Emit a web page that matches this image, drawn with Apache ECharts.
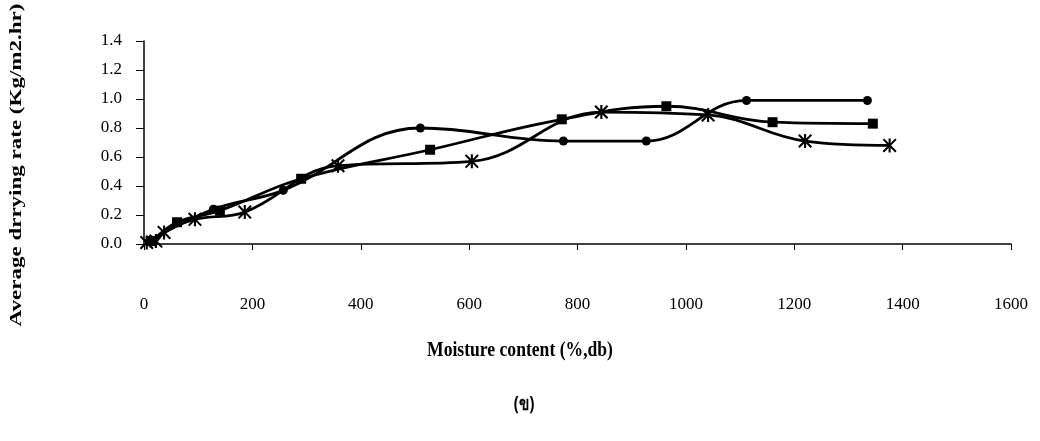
<!DOCTYPE html>
<html>
<head>
<meta charset="utf-8">
<script src="https://cdn.jsdelivr.net/npm/echarts@6/dist/echarts.min.js"></script>
<style>
  html, body { margin: 0; padding: 0; background: #fff; }
  #chart { width: 1040px; height: 441px; }
</style>
</head>
<body>
<div id="chart"></div>
<script>
// Moisture content (%, db) and average drying rate (kg/m2.hr) for three runs
const moistureCircle = [10, 128, 257, 510, 774, 927, 1112, 1335];
const rateCircle     = [0.02, 0.24, 0.37, 0.80, 0.71, 0.71, 0.99, 0.99];

const moistureSquare = [15, 61, 140, 290, 528, 771, 964, 1160, 1345];
const rateSquare     = [0.02, 0.15, 0.23, 0.45, 0.65, 0.86, 0.95, 0.84, 0.83];

const moistureStar = [5, 22, 37, 94, 186, 358, 605, 844, 1041, 1220, 1376];
const rateStar     = [0.01, 0.02, 0.08, 0.17, 0.22, 0.54, 0.57, 0.91, 0.89, 0.71, 0.68];

const xTicks = [0, 200, 400, 600, 800, 1000, 1200, 1400, 1600];
const yTicks = [0.0, 0.2, 0.4, 0.6, 0.8, 1.0, 1.2, 1.4];

const xTitle = 'Moisture content (%,db)';
const yTitle = 'Average drrying rate (Kg/m2.hr)';
const subCaption = '(ข)';

const pairs = (xs, ys) => xs.map((x, i) => [x, ys[i]]);

// asterisk marker: one vertical bar and two diagonal bars
const asterisk = 'path://M8.5 0L11.5 0L11.5 20L8.5 20Z' +
  'M0 2.1L2.1 0L20 17.9L17.9 20Z' +
  'M17.9 0L20 2.1L2.1 20L0 17.9Z';

const serif = '"Liberation Serif", "DejaVu Serif", serif';

const lineSeries = (data, symbol, size) => ({
  type: 'line',
  data: data,
  smooth: 0.4,
  symbol: symbol,
  symbolSize: size,
  showAllSymbol: true,
  lineStyle: { color: '#000', width: 2.8 },
  itemStyle: { color: '#000', borderWidth: 0 },
  emphasis: { disabled: true },
  animation: false
});

const chart = echarts.init(document.getElementById('chart'), null, { renderer: 'canvas' });
chart.setOption({
  backgroundColor: '#fff',
  animation: false,
  grid: { left: 144, right: 29, top: 41, bottom: 197, containLabel: false },
  xAxis: {
    type: 'value',
    min: xTicks[0],
    max: xTicks[xTicks.length - 1],
    interval: 200,
    axisLine: { show: true, lineStyle: { color: '#000', width: 1.5 } },
    axisTick: { show: true, length: 6, lineStyle: { color: '#000', width: 1 } },
    axisLabel: {
      margin: 52, color: '#000', fontSize: 17, fontFamily: serif,
      formatter: v => String(v)
    },
    splitLine: { show: false }
  },
  yAxis: {
    type: 'value',
    min: yTicks[0],
    max: yTicks[yTicks.length - 1],
    interval: 0.2,
    axisLine: { show: true, lineStyle: { color: '#000', width: 1.5 } },
    axisTick: { show: true, length: 8, lineStyle: { color: '#000', width: 1 } },
    axisLabel: {
      margin: 22, color: '#000', fontSize: 17, fontFamily: serif,
      formatter: v => v.toFixed(1)
    },
    splitLine: { show: false }
  },
  series: [
    lineSeries(pairs(moistureCircle, rateCircle), 'circle', 9),
    lineSeries(pairs(moistureSquare, rateSquare), 'rect', 10),
    lineSeries(pairs(moistureStar, rateStar), asterisk, 14)
  ],
  graphic: [
    {
      type: 'text', x: 520, y: 350, scaleX: 0.8,
      style: {
        text: xTitle, fill: '#000', font: 'bold 22px ' + serif,
        textAlign: 'center', textVerticalAlign: 'middle'
      }
    },
    {
      type: 'text', x: 524, y: 405, scaleX: 0.8,
      style: {
        text: subCaption, fill: '#000',
        font: 'bold 19px "Noto Sans", "DejaVu Sans", ' + serif,
        textAlign: 'center', textVerticalAlign: 'middle'
      }
    },
    {
      type: 'text', x: 17, y: 165, rotation: Math.PI / 2, scaleY: 0.75,
      style: {
        text: yTitle, fill: '#000', font: 'bold 23px ' + serif,
        textAlign: 'center', textVerticalAlign: 'middle'
      }
    }
  ]
});
</script>
</body>
</html>
